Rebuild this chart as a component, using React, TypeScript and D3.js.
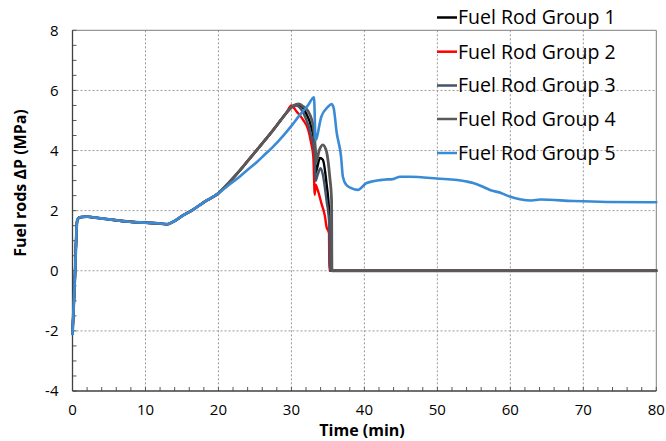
import React from "react";
import * as d3 from "d3";

const xTicks = [0, 10, 20, 30, 40, 50, 60, 70, 80];
const yTicks = [-4, -2, 0, 2, 4, 6, 8];

const groupNames = ["Fuel Rod Group 1", "Fuel Rod Group 2", "Fuel Rod Group 3", "Fuel Rod Group 4", "Fuel Rod Group 5"];
const groupColors = ["#000000", "#ff0000", "#44546a", "#595959", "#3a8bd6"];
const groupWidths = [2.4, 2.4, 2.4, 2.8, 2.6];

// shared start (all groups overlap)
const startT = [0, 0.3, 0.65, 1.0, 2, 3, 5, 7.5, 10, 12, 13, 13.8, 15, 16.5, 18, 20];
const startV = [-2.1, -0.4, 1.68, 1.78, 1.8, 1.77, 1.71, 1.64, 1.6, 1.57, 1.55, 1.63, 1.82, 2.03, 2.28, 2.58];

// shared ascent of groups 1-4
const riseT = [21.5, 22.9, 24.0, 25.2, 26.5, 27.5, 28.5, 29.3];
const riseV = [2.95, 3.33, 3.65, 4.0, 4.38, 4.68, 5.0, 5.25];

const g1T = [30.2, 30.9, 31.5, 32.0, 32.7, 33.2, 33.3, 33.5, 33.9, 34.3, 34.8, 35.2, 35.3, 80];
const g1V = [5.47, 5.52, 5.45, 5.24, 4.8, 4.13, 3.25, 3.4, 3.75, 3.69, 2.92, 1.8, 0, 0];

const g2T = [30.0, 30.7, 31.6, 32.3, 32.7, 33.0, 33.2, 33.3, 33.6, 34.1, 34.6, 34.8, 35.15, 35.2, 80];
const g2V = [5.5, 5.3, 5.02, 4.69, 4.25, 3.8, 2.53, 2.86, 2.69, 2.25, 1.8, 1.47, 1.25, 0, 0];

const g3T = [30.2, 30.7, 31.3, 32.0, 32.7, 33.2, 33.3, 33.6, 34.0, 34.3, 34.8, 35.2, 35.3, 80];
const g3V = [5.48, 5.5, 5.38, 5.05, 4.5, 3.8, 2.99, 3.2, 3.41, 3.2, 2.36, 1.5, 0, 0];

const g4T = [30.3, 31.0, 31.7, 32.3, 33.0, 33.3, 33.4, 33.8, 34.3, 34.8, 35.25, 35.5, 35.55, 80];
const g4V = [5.5, 5.55, 5.45, 5.3, 4.8, 4.0, 3.63, 4.0, 4.19, 3.97, 3.13, 2.36, 0, 0];

const g5T = [21.5, 22.9, 24.0, 25.2, 26.5, 27.5, 28.8, 30, 31.1, 32.2, 33.1, 33.3, 34.1, 35.0, 35.5, 35.8, 36.2, 36.8, 37.05, 37.5, 38.2, 39.1, 40.3, 42.6, 43.9, 44.9, 46.2, 49.9, 54.0, 54.9, 56.0, 57.2, 58.8, 59.9, 61.3, 62.9, 64.1, 68.6, 73.2, 80];
const g5V = [2.87, 3.13, 3.36, 3.6, 3.9, 4.13, 4.47, 4.82, 5.17, 5.48, 5.77, 4.35, 5.13, 5.45, 5.55, 5.4, 4.6, 3.8, 3.13, 2.86, 2.75, 2.69, 2.92, 3.03, 3.05, 3.13, 3.13, 3.07, 2.97, 2.92, 2.82, 2.69, 2.58, 2.47, 2.38, 2.34, 2.37, 2.32, 2.29, 2.28];

const W = 666, H = 441;
const L = 72.5, R = 656.3, T = 30.3, B = 391;

export default function App() {
  const x = d3.scaleLinear().domain([0, 80]).range([L, R]);
  const y = d3.scaleLinear().domain([-4, 8]).range([B, T]);

  const build = (ts: number[], vs: number[]) => ts.map((t, i) => [t, vs[i]] as [number, number]);
  const start = build(startT, startV);
  const rise = build(riseT, riseV);
  const series = [
    [...start, ...rise, ...build(g1T, g1V)],
    [...start, ...rise, ...build(g2T, g2V)],
    [...start, ...rise, ...build(g3T, g3V)],
    [...start, ...rise, ...build(g4T, g4V)],
    [...start, ...build(g5T, g5V)],
  ];
  const line = d3.line<[number, number]>().x(d => x(d[0])).y(d => y(d[1])).curve(d3.curveMonotoneX);

  const xMinor = d3.range(0, 80.01, 2);
  const yMinor = d3.range(-4, 8.01, 0.5);
  const font = "'Open Sans', sans-serif";
  const legendY = [17.5, 51.7, 85.5, 119, 153];

  return (
    <svg width={W} height={H} style={{ position: "absolute", left: 0, top: 0, background: "#fff" }} fontFamily={font}>
      <rect x={0} y={0} width={W} height={H} fill="#fff" />
      {/* grid */}
      {xTicks.slice(1, -1).map(t => (
        <line key={"gx" + t} x1={x(t)} x2={x(t)} y1={T} y2={B} stroke="#9a9a9a" strokeWidth={1} strokeDasharray="2,2" />
      ))}
      {yTicks.slice(1, -1).map(t => (
        <line key={"gy" + t} x1={L} x2={R} y1={y(t)} y2={y(t)} stroke="#9a9a9a" strokeWidth={1} strokeDasharray="2,2" />
      ))}
      {/* frame */}
      <line x1={L} x2={R} y1={T} y2={T} stroke="#7f7f7f" strokeWidth={1} />
      <line x1={R} x2={R} y1={T} y2={B} stroke="#7f7f7f" strokeWidth={1} />
      {/* minor ticks */}
      {xMinor.map(t => (
        <line key={"mx" + t} x1={x(t)} x2={x(t)} y1={B} y2={B - 4} stroke="#595959" strokeWidth={1} />
      ))}
      {yMinor.map(t => (
        <line key={"my" + t} x1={L} x2={L + 4} y1={y(t)} y2={y(t)} stroke="#595959" strokeWidth={1} />
      ))}
      <line x1={L} x2={L} y1={T} y2={B} stroke="#404040" strokeWidth={1.3} />
      <line x1={L} x2={R} y1={B} y2={B} stroke="#404040" strokeWidth={1.3} />
      {/* tick labels */}
      {yTicks.map(t => (
        <text key={"ty" + t} x={L - 14} y={y(t)} dy="0.35em" textAnchor="end" fontSize={15} fill="#000">{t}</text>
      ))}
      {xTicks.map(t => (
        <text key={"tx" + t} x={x(t)} y={414.5} textAnchor="middle" fontSize={15} fill="#000">{t}</text>
      ))}
      {/* axis titles */}
      <text x={362} y={436} textAnchor="middle" fontSize={16} fontWeight="bold" fill="#000">Time (min)</text>
      <text transform={`translate(26,183) rotate(-90)`} textAnchor="middle" fontSize={16} fontWeight="bold" fill="#000">Fuel rods ΔP (MPa)</text>
      {/* series */}
      {series.map((s, i) => (
        <path key={"s" + i} d={line(s) || ""} fill="none" stroke={groupColors[i]} strokeWidth={groupWidths[i]} strokeLinejoin="round" strokeLinecap="round" />
      ))}
      {/* legend */}
      {groupNames.map((n, i) => (
        <g key={"lg" + i}>
          <line x1={437} x2={457} y1={legendY[i]} y2={legendY[i]} stroke={groupColors[i]} strokeWidth={2.5} />
          <text x={458} y={legendY[i]} dy="0.35em" fontSize={19.5} fill="#000">{n}</text>
        </g>
      ))}
    </svg>
  );
}
